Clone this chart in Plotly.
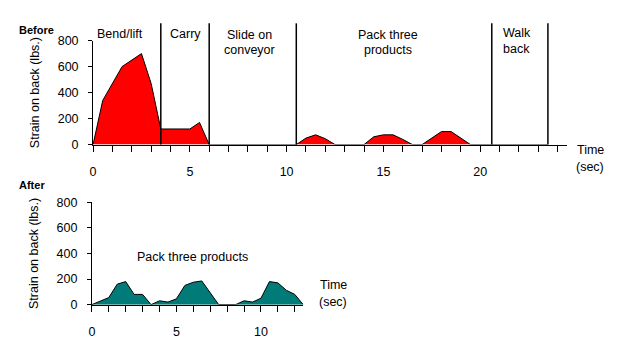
import plotly.graph_objects as go

# Before: strain on back over time
before_t = [0, 0.5, 1.5, 2.0, 2.5, 3.0, 3.5, 5.0, 5.5, 6.0, 10.5, 11.0, 11.5, 12.0, 12.5,
            14.0, 14.5, 15.0, 15.5, 16.0, 16.5, 17.0, 17.5, 18.0, 18.5, 19.0, 19.5, 23.5]
before_v = [0, 340, 600, 650, 700, 470, 120, 120, 170, 0, 0, 50, 75, 45, 0,
            0, 60, 75, 75, 40, 0, 0, 50, 100, 100, 50, 0, 0]

# After: strain on back over time
after_t = [0, 1, 1.5, 2, 2.5, 3, 3.5, 4, 4.5, 5, 5.5, 6, 6.5, 7, 7.5, 8.5,
           9, 9.5, 10, 10.5, 11, 11.5, 12, 12.5]
after_v = [0, 55, 160, 180, 80, 80, 0, 30, 20, 45, 150, 175, 185, 90, 0, 0,
           30, 20, 50, 180, 170, 112, 80, 0]

phase_bounds = [3.5, 6.0, 10.5, 20.6, 23.5]
phase_labels = [["Bend/lift"], ["Carry"], ["Slide on", "conveyor"],
                ["Pack three", "products"], ["Walk", "back"]]
y_ticks = [0, 200, 400, 600, 800]

FONT = "Liberation Sans, Arial, sans-serif"
FS = 12.5
W, H = 624, 351

fig = go.Figure()
fig.add_trace(go.Scatter(x=before_t, y=before_v, mode="lines", fill="tozeroy",
                         fillcolor="#FF0000", line=dict(color="black", width=1),
                         xaxis="x", yaxis="y", hoverinfo="skip"))
fig.add_trace(go.Scatter(x=after_t, y=after_v, mode="lines", fill="tozeroy",
                         fillcolor="#007B78", line=dict(color="black", width=1),
                         xaxis="x2", yaxis="y2", hoverinfo="skip"))

axis_common = dict(showline=True, linecolor="black", linewidth=1, showgrid=False,
                   zeroline=False, ticks="outside", tickcolor="black",
                   tickfont=dict(size=FS, color="black", family=FONT))

fig.update_layout(
    width=W, height=H, margin=dict(l=0, r=0, t=0, b=0),
    paper_bgcolor="white", plot_bgcolor="white", showlegend=False,
    font=dict(family=FONT, color="black", size=FS),
    xaxis=dict(domain=[90.5 / W, 567 / W], range=[0, 24.5], tickmode="array",
               tickvals=list(range(0, 25)),
               ticktext=[str(v) if v % 5 == 0 and v <= 20 else "" for v in range(0, 25)],
               ticklen=6, ticklabelstandoff=9, anchor="y", **axis_common),
    yaxis=dict(domain=[1 - 143.3 / H, 1 - 35 / H], range=[0, 800], tickvals=y_ticks,
               ticklen=4, ticklabelstandoff=7, anchor="x",
               title=dict(text="Strain on back (lbs.)", font=dict(size=FS), standoff=15),
               **axis_common),
    xaxis2=dict(domain=[89.3 / W, 301.7 / W], range=[0, 12.5], tickmode="array",
                tickvals=list(range(0, 13)),
                ticktext=[str(v) if v % 5 == 0 else "" for v in range(0, 13)],
                ticklen=6, ticklabelstandoff=9, anchor="y2", **axis_common),
    yaxis2=dict(domain=[1 - 310 / H, 1 - 203.3 / H], range=[0, 800], tickvals=y_ticks,
                ticklen=4, ticklabelstandoff=7, anchor="x2",
                title=dict(text="Strain on back (lbs.)", font=dict(size=FS), standoff=15),
                **axis_common),
)

for b in phase_bounds:
    fig.add_shape(type="line", xref="x", yref="paper", x0=b, x1=b,
                  y0=1 - 143.3 / H, y1=1 - 17 / H, line=dict(color="black", width=1.5))


def text_at(px, py, txt, size=FS):
    fig.add_annotation(x=px / W, xref="paper", y=1 - py / H, yref="paper", text=txt,
                       showarrow=False, xanchor="center", yanchor="middle",
                       font=dict(size=size), borderpad=0)


label_px = [118, 183, 248, 387, 516]
label_py = [[28], [28], [29, 45], [29, 45], [27, 44]]
for px, lines, pys in zip(label_px, phase_labels, label_py):
    for line, py in zip(lines, pys):
        text_at(px, py, line)

text_at(590, 149, "Time")
text_at(590, 167, "(sec)")
text_at(332, 290, "Time")
text_at(332, 307, "(sec)")
text_at(190, 260, "Pack three products")

fig.add_annotation(x=15 / W, xref="paper", y=1 - 16.5 / H, yref="paper", text="<b>Before</b>",
                   showarrow=False, xanchor="left", font=dict(size=11), borderpad=0)
fig.add_annotation(x=15 / W, xref="paper", y=1 - 185 / H, yref="paper", text="<b>After</b>",
                   showarrow=False, xanchor="left", font=dict(size=11), borderpad=0)

fig.write_html("out.html")
